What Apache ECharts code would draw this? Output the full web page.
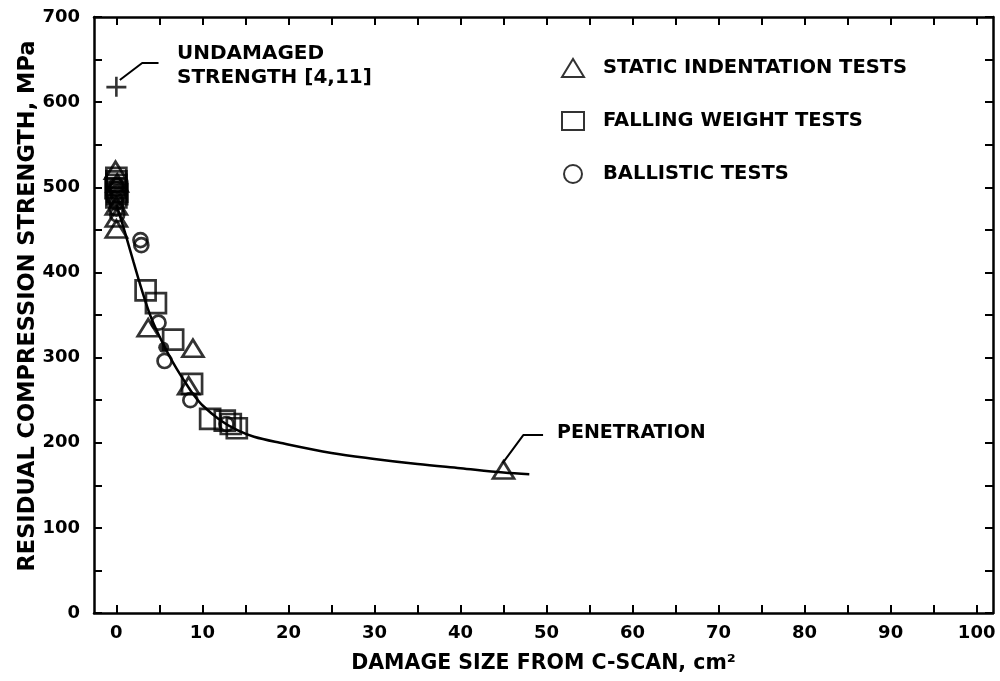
<!DOCTYPE html>
<html>
<head>
<meta charset="utf-8">
<script src="https://cdn.jsdelivr.net/npm/echarts@6/dist/echarts.min.js"></script>
<style>html,body{margin:0;padding:0;background:#fff}#c{width:1000px;height:681px}</style>
</head>
<body>
<div id="c"></div>
<script>
// ---- data ----
const staticX = [-0.1, 0.1, 0.0, 0.0, 0.0, 3.7, 8.9, 8.4, 45.0];
const staticY = [520, 505, 478, 464, 451, 335, 311, 267, 168];
const fallingX = [0.0, 0.0, 0.1, 0.0, 0.0, -0.1, 0.1, 3.4, 4.6, 6.6, 8.8, 10.9, 12.6, 13.3, 14.0];
const fallingY = [511, 503, 495, 488, 507, 499, 492, 379, 364, 321, 269, 228, 226, 222, 217];
const ballisticX = [0.0, 0.2, 0.0, 0.0, 0.1, -0.1, 0.1, 0.0, 2.8, 2.9, 4.9, 5.6, 8.6, 12.8];
const ballisticY = [498, 490, 482, 475, 468, 486, 494, 502, 438, 432, 341, 296, 250, 222];
const solidX = [5.5];
const solidY = [312];
const fitX = [0, 1, 2, 3, 4, 5, 6, 7, 8, 9, 10, 12, 14, 16, 19, 25, 30, 35, 40, 45, 48];
const fitY = [480, 447, 412, 378, 348, 325, 305, 287, 271, 256, 244, 227, 215, 207, 200, 188, 181, 175, 170, 165, 163];
const undamagedX = [0];
const undamagedY = [618];
const undamagedLeaderX = [0.4, 3.0, 4.9];
const undamagedLeaderY = [626, 646, 646];
const penetrationLeaderX = [44.9, 47.3, 49.6];
const penetrationLeaderY = [176, 209, 209];
const xTickValues = [0, 5, 10, 15, 20, 25, 30, 35, 40, 45, 50, 55, 60, 65, 70, 75, 80, 85, 90, 95, 100];
const xLabelValues = [0, 10, 20, 30, 40, 50, 60, 70, 80, 90, 100];
const seriesNames = ['STATIC INDENTATION TESTS', 'FALLING WEIGHT TESTS', 'BALLISTIC TESTS'];
const xTitle = 'DAMAGE SIZE FROM C-SCAN, cm\u00B2';
const yTitle = 'RESIDUAL COMPRESSION STRENGTH, MPa';
const undamagedText = ['UNDAMAGED', 'STRENGTH [4,11]'];
const penetrationText = 'PENETRATION';

const zip = (xs, ys) => xs.map((x, i) => [x, ys[i]]);
const FONT = '"DejaVu Sans", sans-serif';
const open = { color: 'rgba(0,0,0,0)', borderColor: '#000', borderWidth: 2.7 };

const chart = echarts.init(document.getElementById('c'), null, { renderer: 'canvas' });

const labelFmt = step => v => (Math.abs(Math.round(v / step) * step - v) < 1e-6 ? String(Math.round(v)) : '');
const tickStyle = { color: '#000', width: 2 };
const lineCommon = { show: true, onZero: false, lineStyle: { color: '#000', width: 2.5 } };
const yTick = { show: true, inside: true, length: 8, lineStyle: tickStyle };
const xTick = { show: true, inside: true, length: 8, lineStyle: tickStyle, customValues: xTickValues };

chart.setOption({
  backgroundColor: '#fff',
  animation: false,
  grid: { left: 94, right: 7, top: 17, bottom: 68, containLabel: false },
  legend: {
    data: seriesNames,
    orient: 'vertical',
    left: 556,
    top: 53,
    itemWidth: 22,
    itemHeight: 18,
    itemGap: 33,
    selectedMode: false,
    textStyle: { fontFamily: FONT, fontWeight: 'bold', fontSize: 19.5, color: '#000', padding: [0, 0, 0, 14] }
  },
  xAxis: [{
    type: 'value', min: -2.6, max: 101.9, position: 'bottom',
    axisLine: lineCommon, axisTick: xTick, splitLine: { show: false },
    axisLabel: { customValues: xLabelValues, fontFamily: FONT, fontWeight: 'bold', fontSize: 18, color: '#000', margin: 11 },
    name: xTitle, nameLocation: 'middle', nameGap: 40, nameMoveOverlap: false,
    nameTextStyle: { fontFamily: FONT, fontWeight: 'bold', fontSize: 20.5, color: '#000' }
  }, {
    type: 'value', min: -2.6, max: 101.9, position: 'top',
    axisLine: lineCommon, axisTick: xTick, axisLabel: { show: false }, splitLine: { show: false }
  }],
  yAxis: [{
    type: 'value', min: 0, max: 700, interval: 50, position: 'left',
    axisLine: lineCommon, axisTick: yTick, splitLine: { show: false },
    axisLabel: { formatter: labelFmt(100), fontFamily: FONT, fontWeight: 'bold', fontSize: 18, color: '#000', margin: 14 },
    name: yTitle, nameLocation: 'middle', nameGap: 54, nameMoveOverlap: false,
    nameTextStyle: { fontFamily: FONT, fontWeight: 'bold', fontSize: 22.5, color: '#000', padding: [0, 0, 0, 18] }
  }, {
    type: 'value', min: 0, max: 700, interval: 50, position: 'right',
    axisLine: lineCommon, axisTick: yTick, axisLabel: { show: false }, splitLine: { show: false }
  }],
  series: [
    { name: 'fit', type: 'line', data: zip(fitX, fitY), smooth: 0.35, showSymbol: false, symbol: 'none',
      lineStyle: { color: '#000', width: 2.5 }, silent: true, z: 1 },
    { name: seriesNames[0], type: 'scatter', data: zip(staticX, staticY),
      symbol: 'path://M0,18L11,0L22,18Z', symbolSize: [21, 17], itemStyle: open, z: 3 },
    { name: seriesNames[1], type: 'scatter', data: zip(fallingX, fallingY),
      symbol: 'rect', symbolSize: 20, itemStyle: open, z: 3 },
    { name: seriesNames[2], type: 'scatter', data: zip(ballisticX, ballisticY),
      symbol: 'circle', symbolSize: 14, itemStyle: open, z: 3 },
    { name: 'solid', type: 'scatter', data: zip(solidX, solidY),
      symbol: 'circle', symbolSize: 11, itemStyle: { color: '#000' }, z: 4 },
    { name: 'undamaged', type: 'scatter', data: zip(undamagedX, undamagedY),
      symbol: 'path://M0,9h20v2.6h-20zM8.7,0h2.6v20h-2.6z', symbolSize: 20, itemStyle: { color: '#000' }, z: 4 },
    { name: 'leader1', type: 'line', data: zip(undamagedLeaderX, undamagedLeaderY), symbol: 'none',
      lineStyle: { color: '#000', width: 2 }, silent: true },
    { name: 'leader2', type: 'line', data: zip(penetrationLeaderX, penetrationLeaderY), symbol: 'none',
      lineStyle: { color: '#000', width: 2 }, silent: true }
  ],
  graphic: [
    { type: 'text', left: 177, top: 44, style: { text: undamagedText[0], font: 'bold 20px ' + FONT, fill: '#000' } },
    { type: 'text', left: 177, top: 68, style: { text: undamagedText[1], font: 'bold 20px ' + FONT, fill: '#000' } },
    { type: 'text', left: 557, top: 424, style: { text: penetrationText, font: 'bold 19px ' + FONT, fill: '#000' } }
  ]
});
</script>
</body>
</html>
